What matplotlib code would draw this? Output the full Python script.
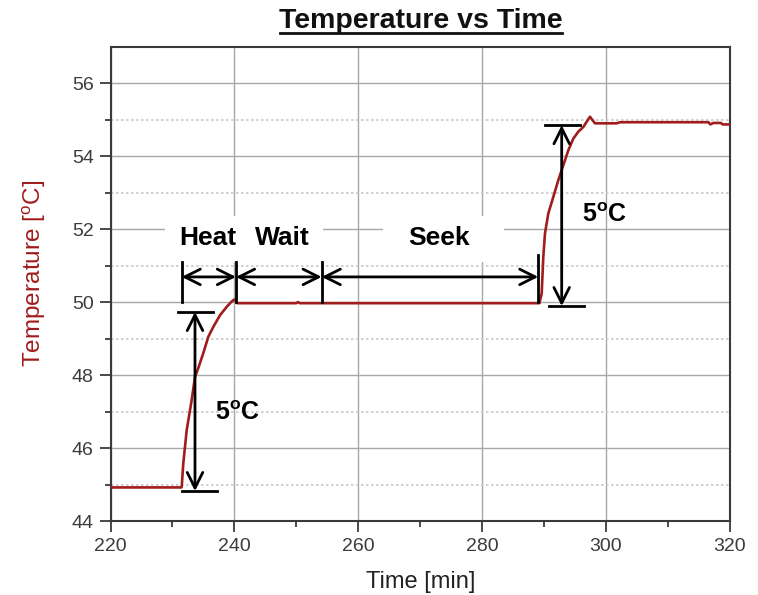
import matplotlib
matplotlib.use("Agg")
import matplotlib.pyplot as plt
from matplotlib.patches import Rectangle
from matplotlib.lines import Line2D

plt.rcParams['font.family'] = ['Liberation Sans', 'DejaVu Sans']
plt.rcParams['mathtext.fontset'] = 'custom'
plt.rcParams['mathtext.rm'] = 'Liberation Sans'
plt.rcParams['mathtext.bf'] = 'Liberation Sans:bold'

# ---- data ----
time_min = [220.0, 231.45, 231.5, 231.76, 232.31, 233.12, 233.65, 234.18, 234.99, 235.80,
            236.61, 237.69, 238.77, 239.6, 240.0, 240.48, 250.0, 250.3, 250.6, 289.29,
            289.66, 289.92, 290.19, 290.73, 291.53, 292.34, 293.15, 293.96, 294.77,
            295.57, 296.38, 297.46, 298.27, 299.08, 301.78, 302.31, 316.6, 316.9,
            317.4, 318.6, 318.9, 320.0]
temp_c = [44.92, 44.92, 44.93, 45.58, 46.49, 47.32, 47.95, 48.19, 48.60, 49.05,
          49.32, 49.64, 49.87, 50.02, 50.07, 49.97, 49.97, 50.0, 49.97, 49.97,
          50.24, 51.24, 51.88, 52.43, 52.88, 53.34, 53.75, 54.16, 54.48,
          54.67, 54.80, 55.08, 54.90, 54.90, 54.90, 54.93, 54.93, 54.87,
          54.91, 54.91, 54.87, 54.87]

x_ticks = [220, 240, 260, 280, 300, 320]
y_ticks = [44, 46, 48, 50, 52, 54, 56]

# phase boundaries (min) and annotation texts
phase_bounds = [231.5, 240.27, 254.12, 289.11]
phase_names = ["Heat", "Wait", "Seek"]
step_label = r"5$^{\mathbf{o}}$C"

line_color = "#a11c1c"
grey = "#3a3a3a"

fig = plt.figure(figsize=(7.58, 5.95), dpi=100)
ax = fig.add_axes([110.5/758, 74/595, 619/758, 474.3/595])

ax.plot(time_min, temp_c, color=line_color, lw=1.9, zorder=5)

ax.set_xlim(220, 320)
ax.set_ylim(44, 57)
ax.set_xticks(x_ticks)
ax.set_yticks(y_ticks)
ax.set_xticks([230, 250, 270, 290, 310], minor=True)
ax.set_yticks([45, 47, 49, 51, 53, 55], minor=True)

ax.grid(True, which='major', color='#a8a8a8', lw=1.0, zorder=0)
ax.grid(True, which='minor', axis='y', color='#c8c8c8', lw=1.2, ls=(0, (1.5, 1.5)), zorder=0)
ax.set_axisbelow(True)

for s in ax.spines.values():
    s.set_color(grey)
    s.set_linewidth(1.5)
ax.tick_params(which='major', direction='out', length=8, width=1.3, color=grey,
               labelsize=14, labelcolor='#3c3c3c', pad=4)
ax.tick_params(which='minor', direction='out', length=4.5, width=1.3, color=grey)

# axis labels
fig.text(421/758, 1 - 588/595, "Time [min]", ha='center', va='baseline',
         fontsize=17, color='#222222')
fig.text(34/758, 1 - 273.5/595, r"Temperature [$^{\mathregular{o}}$C]", ha='center', va='center',
         rotation=90, fontsize=17.5, color=line_color)

# title with underline
fig.text(421/758, 1 - 28/595, "Temperature vs Time", ha='center', va='baseline',
         fontsize=20.5, fontweight='bold', color='#111111')
fig.add_artist(Line2D([280/758, 562/758], [1 - 32.5/595, 1 - 32.5/595], color='#111111', lw=2))

# white label boxes
ax.add_patch(Rectangle((228.8, 51.10), 25.5, 1.26, facecolor='white', edgecolor='none', zorder=3))
ax.add_patch(Rectangle((264.0, 51.10), 19.5, 1.26, facecolor='white', edgecolor='none', zorder=3))
ax.text(235.75, 51.75, phase_names[0], ha='center', va='center', fontsize=19, fontweight='bold', zorder=6)
ax.text(247.7, 51.75, phase_names[1], ha='center', va='center', fontsize=19, fontweight='bold', zorder=6)
ax.text(273.07, 51.77, phase_names[2], ha='center', va='center', fontsize=19, fontweight='bold', zorder=6)

# phase arrows
arrow_y = 50.69
for b in phase_bounds[:3]:
    ax.plot([b, b], [50.0, 51.10], color='black', lw=2, zorder=6)
ax.plot([phase_bounds[3], phase_bounds[3]], [50.0, 51.29], color='black', lw=2, zorder=6)
for a, b in zip(phase_bounds[:-1], phase_bounds[1:]):
    ax.annotate("", xy=(a, arrow_y), xytext=(b, arrow_y),
                arrowprops=dict(arrowstyle='<->', color='black', lw=2,
                                mutation_scale=28, shrinkA=0, shrinkB=0), zorder=6)

# 5 deg steps
def step_arrow(x, y0, y1, xb0, xb1, tx, ty):
    ax.plot([xb0, xb1], [y0, y0], color='black', lw=2, zorder=6)
    ax.plot([xb0 + 0.6, xb1 + 0.6], [y1, y1], color='black', lw=2, zorder=6)
    ax.annotate("", xy=(x, y0), xytext=(x, y1),
                arrowprops=dict(arrowstyle='<->', color='black', lw=2,
                                mutation_scale=28, shrinkA=0, shrinkB=0), zorder=6)
    ax.text(tx, ty, step_label, ha='left', va='center', fontsize=18, fontweight='bold', zorder=6)

step_arrow(233.65, 49.73, 44.82, 230.9, 236.56, 236.88, 46.96)
step_arrow(292.89, 54.85, 49.89, 290.19, 295.85, 296.12, 52.38)

fig.savefig("out.png", dpi=100)
